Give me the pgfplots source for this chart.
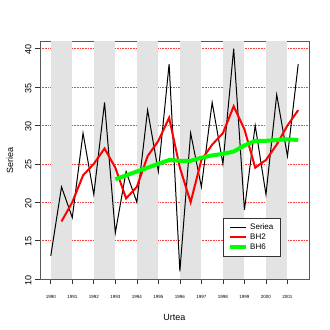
\documentclass[border=0pt]{standalone}
\usepackage{fontspec}
\setmainfont{Liberation Sans}
\usepackage{pgfplots}
\pgfplotsset{compat=1.18}
\begin{document}
\begin{tikzpicture}
\begin{axis}[
  name=ax,
  scale only axis,
  width=269pt, height=238pt,
  xmin=1989.5, xmax=2002,
  ymin=10, ymax=41,
  axis line style={black!65, line width=0.9pt},
  tick align=outside,
  tick style={black!80, line width=0.6pt},
  major tick length=5pt,
  minor tick length=2.5pt,
  xtick={1990,1991,...,2001},
  minor x tick num=1,
  ytick={10,15,...,40},
  xtick pos=left, ytick pos=left,
  /pgf/number format/assume math mode=true,
  /pgf/number format/1000 sep={},
  xticklabel style={font=\fontsize{4.5}{5}\selectfont, yshift=-8pt},
  yticklabel style={font=\fontsize{9}{10}\selectfont, rotate=90, anchor=south, xshift=-1pt},
  ymajorgrids,
  major grid style={red!75, dash pattern=on 0.8pt off 0.8pt, line width=0.55pt},
  xlabel={Urtea}, ylabel={Seriea},
  xlabel style={font=\fontsize{9}{10}\selectfont, yshift=-9pt},
  ylabel style={font=\fontsize{9}{10}\selectfont, yshift=5pt},
  legend style={at={(0.68,0.256)}, anchor=north west, draw=black!80, line width=0.6pt,
    font=\fontsize{8}{9}\selectfont, row sep=-1pt, inner xsep=5pt, inner ysep=3pt},
  legend cell align=left,
  legend image code/.code={\draw[#1] (0pt,0pt) -- (16pt,0pt);},
]
% grey bands
\addplot[fill=black!11, draw=none, forget plot] coordinates {(1990,10) (1990,41) (1991,41) (1991,10)} --cycle;
\addplot[fill=black!11, draw=none, forget plot] coordinates {(1992,10) (1992,41) (1993,41) (1993,10)} --cycle;
\addplot[fill=black!11, draw=none, forget plot] coordinates {(1994,10) (1994,41) (1995,41) (1995,10)} --cycle;
\addplot[fill=black!11, draw=none, forget plot] coordinates {(1996,10) (1996,41) (1997,41) (1997,10)} --cycle;
\addplot[fill=black!11, draw=none, forget plot] coordinates {(1998,10) (1998,41) (1999,41) (1999,10)} --cycle;
\addplot[fill=black!11, draw=none, forget plot] coordinates {(2000,10) (2000,41) (2001,41) (2001,10)} --cycle;

\addplot[black, line width=1pt, mark=none] coordinates {
(1990,13) (1990.5,22) (1991,18) (1991.5,29) (1992,21) (1992.5,33)
(1993,16) (1993.5,24) (1994,20) (1994.5,32) (1995,24) (1995.5,38)
(1996,11) (1996.5,29) (1997,22) (1997.5,33) (1998,25) (1998.5,40)
(1999,19) (1999.5,30) (2000,21) (2000.5,34) (2001,26) (2001.5,38)};
\addlegendentry{Seriea}

\addplot[red, line width=2pt, mark=none] coordinates {
(1990.5,17.5) (1991,20) (1991.5,23.5) (1992,25) (1992.5,27)
(1993,24.5) (1993.5,20.5) (1994,22) (1994.5,26) (1995,28) (1995.5,31)
(1996,24.5) (1996.5,20) (1997,25.5) (1997.5,27.5) (1998,29) (1998.5,32.5)
(1999,29.5) (1999.5,24.5) (2000,25.5) (2000.5,27.5) (2001,30) (2001.5,32)};
\addlegendentry{BH2}

\addplot[green, line width=4pt, mark=none] coordinates {
(1993,23.0) (1993.5,23.5) (1994,24.0) (1994.5,24.5) (1995,25.0) (1995.5,25.5)
(1996,25.4) (1996.5,25.4) (1997,25.8) (1997.5,26.1) (1998,26.3) (1998.5,26.6)
(1999,27.4) (1999.5,28.0) (2000,28.0) (2000.5,28.1) (2001,28.2) (2001.5,28.1)};
\addlegendentry{BH6}
\end{axis}
\path (ax.south west) ++(-40pt,-51pt) rectangle ++(330pt,330pt);
\end{tikzpicture}
\end{document}
